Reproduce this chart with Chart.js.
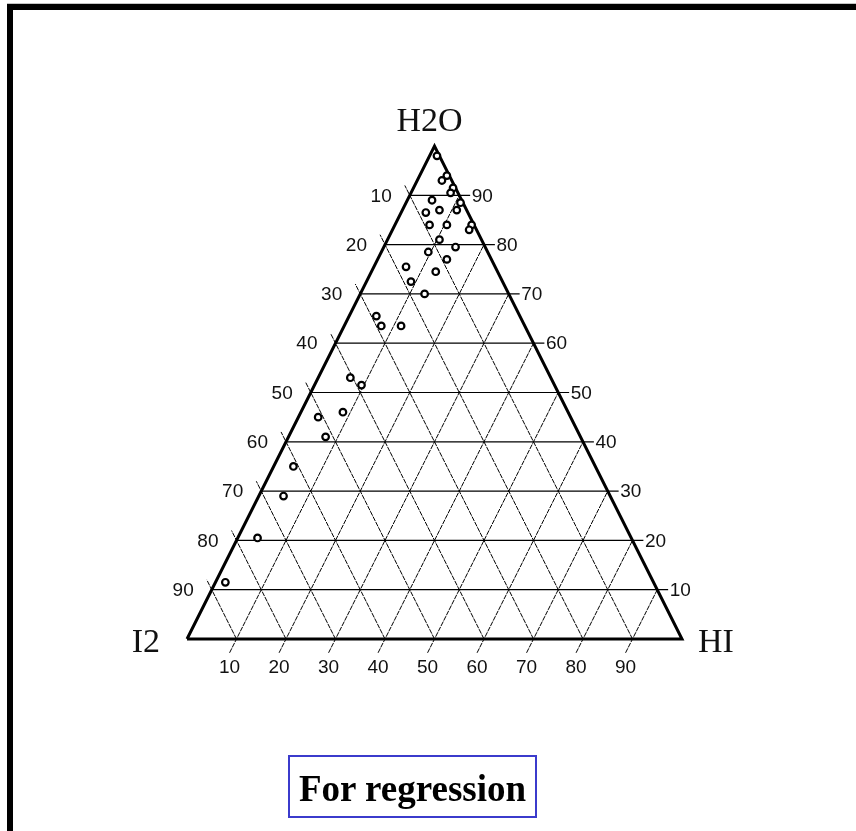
<!DOCTYPE html>
<html><head><meta charset="utf-8">
<script src="https://cdn.jsdelivr.net/npm/chart.js@4.4.0/dist/chart.umd.min.js"></script>
<style>
html,body{margin:0;padding:0;background:#fff;overflow:hidden;width:856px;height:831px;}
#wrap{position:relative;width:856px;height:831px;overflow:hidden;}
#gray{position:absolute;left:7px;top:3px;width:849px;height:1px;background:#c4c4c4;}
#frame{position:absolute;left:7px;top:4px;width:900px;height:900px;border-left:6px solid #000;border-top:6px solid #000;}
#c{position:absolute;left:0;top:0;}
#box{position:absolute;left:288px;top:755px;width:245px;height:59px;border:2px solid #3b3bcc;
 font:bold 37px 'Liberation Serif','Times New Roman',serif;text-align:center;line-height:63px;color:#000;white-space:nowrap;}
</style></head>
<body><div id="wrap">
<div id="gray"></div><div id="frame"></div>
<canvas id="c" width="856" height="831"></canvas>
<div id="box">For regression</div>
</div>
<script>
// Measured compositions (percent)
const H2O = [98,94,93,91.5,90.5,88.5,87,89,86.5,87,84,84,84,83,81,79.5,78.5,77,74.5,75.5,72.5,70,65.5,63.5,63.5,53,51.5,45,46,41,35,29,20.5,11.5];
const HI  = [1.5,5.5,5,8,8,11,11,5,5,7.5,7,10.5,15.5,15.5,10.5,14.5,9.5,14,13,6.5,9,13,5.5,7.5,11.5,6.5,9.5,4,8.5,7.5,4,5,4,2];
const I2  = [0.5,0.5,2,0.5,1.5,0.5,2,6,8.5,5.5,9,5.5,0.5,1.5,8.5,6,12,9,12.5,18,18.5,17,29,29,25,40.5,39,51,45.5,51.5,61,66,75.5,86.5];
// Grid / tick values
const GRID = [10,20,30,40,50,60,70,80,90];
const TICK_LABELS = ['10','20','30','40','50','60','70','80','90'];
const VERTEX_LABELS = ['H2O','I2','HI'];

// ternary -> cartesian (x: 0..100 from I2 corner to HI corner, y: H2O)
function tern(h, p){ return {x: p + h/2, y: h}; }

const datasets = [];
datasets.push({
  label:'data', data: H2O.map((h,i)=>tern(h,HI[i])), showLine:false, order:0,
  pointRadius:3.3, pointBorderWidth:2.2, pointBorderColor:'#000', pointBackgroundColor:'#fff', clip:false
});
datasets.push({
  label:'frame', data:[tern(0,0),tern(0,100),tern(100,0),tern(0,0)], showLine:true, order:1,
  borderColor:'#000', borderWidth:3, pointRadius:0, clip:false, borderJoinStyle:'miter', tension:0
});
const dashed = {showLine:true, order:2, borderColor:'#000', borderWidth:1, borderDash:[5,1], pointRadius:0, clip:false, tension:0};
GRID.forEach(k=>{
  // constant H2O (horizontal), extended past right side as tick
  datasets.push({label:'h'+k, data:[tern(k,0), tern(k,100-k+2.2)], showLine:true, order:2, borderColor:'#000', borderWidth:1.2, pointRadius:0, clip:false});
  // constant HI, extended below base as tick
  datasets.push(Object.assign({label:'p'+k, data:[tern(-2.8,k), tern(100-k,k)]}, dashed));
  // constant I2, extended past left side as tick
  datasets.push(Object.assign({label:'i'+k, data:[tern(0,100-k), tern(100-k+2,-2)]}, dashed));
});

const labelPlugin = {
  id:'ternLabels',
  afterDatasetsDraw(chart){
    const ctx = chart.ctx, xs = chart.scales.x, ys = chart.scales.y;
    const px = p => ({x: xs.getPixelForValue(p.x), y: ys.getPixelForValue(p.y)});
    ctx.save();
    ctx.fillStyle = '#111';
    ctx.font = "19px 'Liberation Sans', Arial, sans-serif";
    GRID.forEach((k,j)=>{
      let b = px(tern(0,k));
      ctx.textAlign='center'; ctx.textBaseline='middle';
      ctx.fillText(TICK_LABELS[j], b.x-7, b.y+29);
      let l = px(tern(100-k,0));
      ctx.textAlign='right';
      ctx.fillText(TICK_LABELS[j], l.x-18, l.y+1);
      let r = px(tern(k,100-k));
      ctx.textAlign='left';
      ctx.fillText(TICK_LABELS[j], r.x+12.5, r.y+1);
    });
    ctx.font = "34px 'Liberation Serif','Times New Roman',serif";
    ctx.textBaseline='alphabetic';
    let top = px(tern(100,0)), left = px(tern(0,0)), right = px(tern(0,100));
    ctx.textAlign='center'; ctx.fillText(VERTEX_LABELS[0], top.x-5, top.y-15);
    ctx.textAlign='right'; ctx.fillText(VERTEX_LABELS[1], left.x-27, left.y+13);
    ctx.textAlign='left'; ctx.fillText(VERTEX_LABELS[2], right.x+16, right.y+13);
    ctx.restore();
  }
};

new Chart(document.getElementById('c'), {
  type:'scatter',
  data:{datasets},
  options:{
    responsive:false, animation:false, devicePixelRatio:1,
    layout:{padding:{left:187, right:174, top:146, bottom:192}},
    plugins:{legend:{display:false}, tooltip:{enabled:false}, title:{display:false}},
    scales:{
      x:{type:'linear', min:0, max:100, display:false},
      y:{type:'linear', min:0, max:100, display:false}
    }
  },
  plugins:[labelPlugin]
});
</script>
</body></html>
